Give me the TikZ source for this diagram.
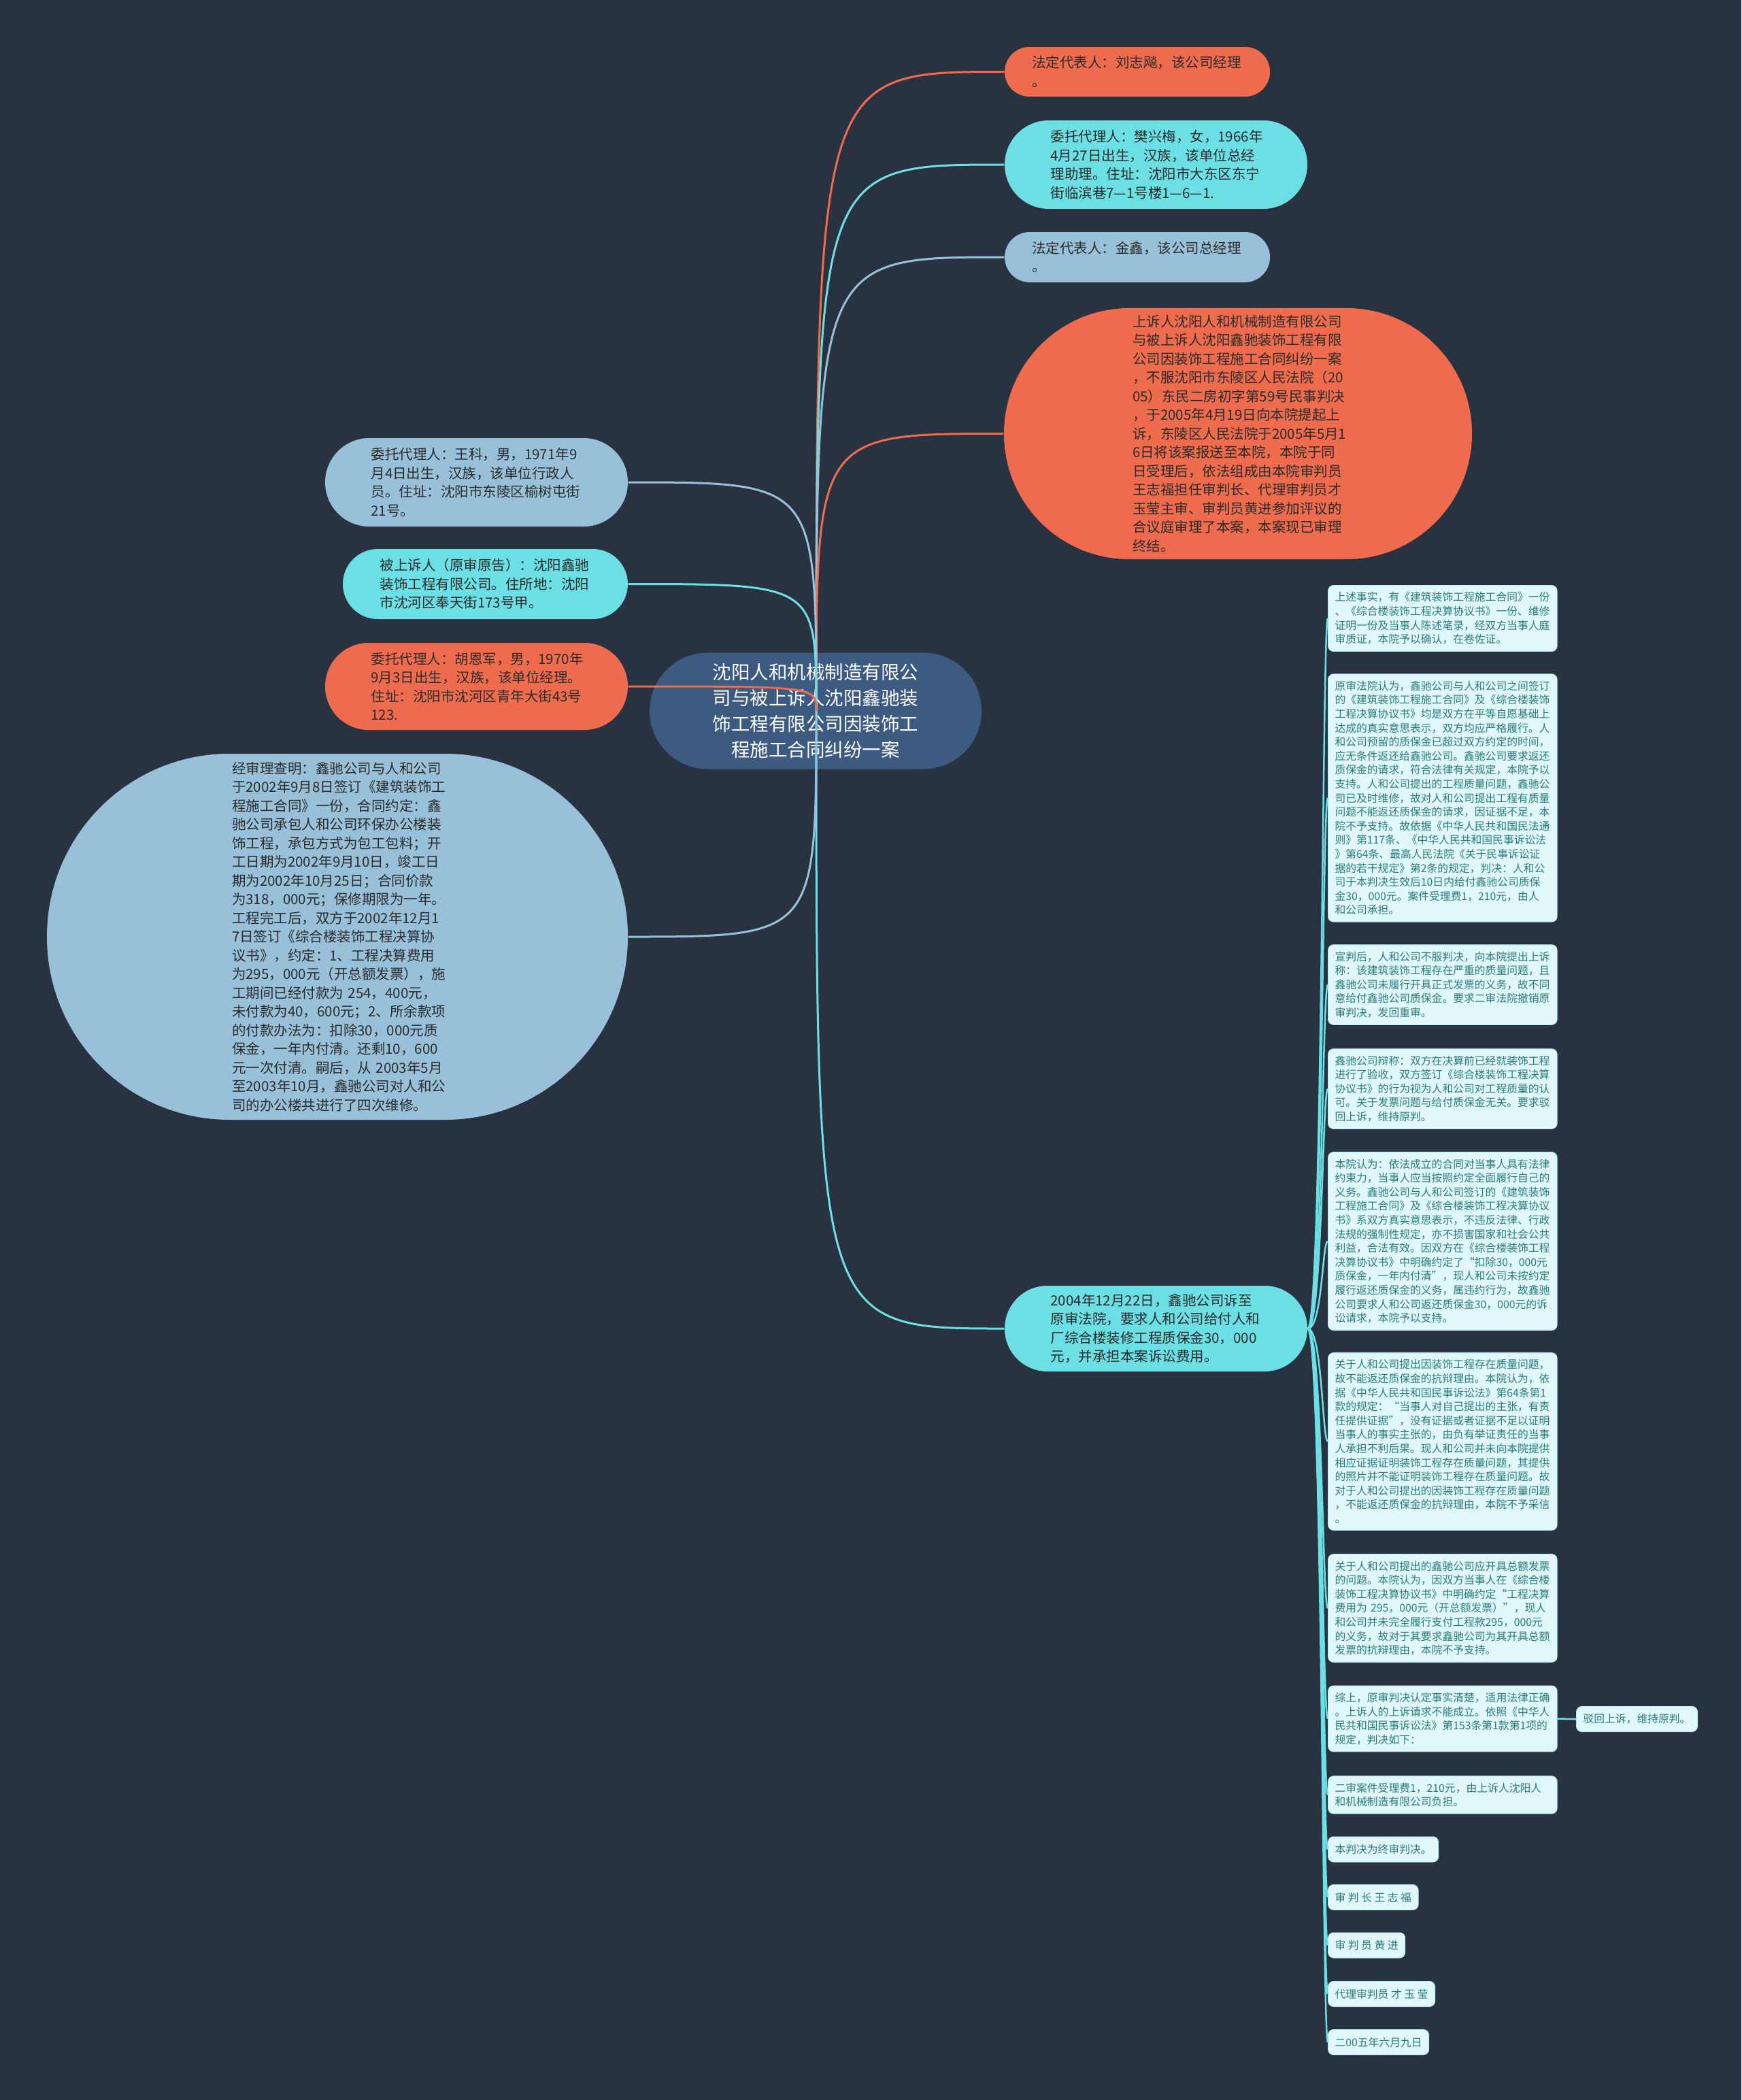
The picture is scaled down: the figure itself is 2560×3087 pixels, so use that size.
\documentclass[tikz,border=0pt]{standalone}
\usepackage{fontspec}
\setmainfont{Noto Sans CJK SC}
\usetikzlibrary{calc}
\definecolor{bgdark}{HTML}{293241}
\definecolor{rootblue}{HTML}{3D5A80}
\definecolor{coral}{HTML}{EE6C4D}
\definecolor{aqua}{HTML}{6CDFE4}
\definecolor{paleblue}{HTML}{98C1D9}
\definecolor{leaffill}{HTML}{E0F8F9}
\definecolor{leafedge}{HTML}{B5ECEF}
\definecolor{leaftext}{HTML}{2B7A80}
\definecolor{darktext}{HTML}{2B2B2B}
\tikzset{
  root/.style={fill=rootblue, inner sep=0pt, minimum width=146.4pt, minimum height=51.3pt,
    rounded corners=25.6pt, text width=92pt, align=center, text=white,
    font=\fontsize{8.25}{11.4}\selectfont},
  pill/.style 2 args={inner sep=0pt, minimum width=#1, minimum height=#2,
    rounded corners=0.499*#2, text width=93pt, align=left, text=darktext,
    font=\fontsize{6.15}{8.25}\selectfont},
  leaf/.style={anchor=west, fill=leaffill, draw=leafedge, line width=0.3pt,
    rounded corners=2.4pt, inner xsep=3pt, inner ysep=3pt, align=left,
    text=leaftext, font=\fontsize{4.74}{6.18}\selectfont, minimum height=11.1pt},
  wideleaf/.style={leaf, text width=95pt},
  link/.style={line width=0.9pt},
  leaflink/.style={draw=aqua, line width=0.75pt}
}

\begin{document}
\begin{tikzpicture}[x=0.3pt,y=-0.3pt]
  \fill[bgdark] (0,0) rectangle (2560,3087);
  \useasboundingbox (0,0) rectangle (2560,3087);

  \node[root] (root) at (1199,1045) {沈阳人和机械制造有限公\\司与被上诉人沈阳鑫驰装\\饰工程有限公司因装饰工\\程施工合同纠纷一案};

  \node[pill={117pt}{21.9pt},fill=coral]      (fadai1)  at (1672,105.5) {法定代表人：刘志飚，该公司经理\\。};
  \node[pill={133.5pt}{39pt},fill=aqua]       (weituo1) at (1699.5,242) {委托代理人：樊兴梅，女，1966年\\4月27日出生，汉族，该单位总经\\理助理。住址：沈阳市大东区东宁\\街临滨巷7—1号楼1—6—1.};
  \node[pill={117pt}{22.2pt},fill=paleblue]   (fadai2)  at (1672,378) {法定代表人：金鑫，该公司总经理\\。};
  \node[pill={206.4pt}{110.7pt},fill=coral]   (shangsu) at (1820,637.5) {上诉人沈阳人和机械制造有限公司\\与被上诉人沈阳鑫驰装饰工程有限\\公司因装饰工程施工合同纠纷一案\\，不服沈阳市东陵区人民法院（20\\05）东民二房初字第59号民事判决\\，于2005年4月19日向本院提起上\\诉，东陵区人民法院于2005年5月1\\6日将该案报送至本院，本院于同\\日受理后，依法组成由本院审判员\\王志福担任审判长、代理审判员才\\玉莹主审、审判员黄进参加评议的\\合议庭审理了本案，本案现已审理\\终结。};
  \node[pill={133.5pt}{37.8pt},fill=aqua]     (qisu)    at (1699.5,1953) {2004年12月22日，鑫驰公司诉至\\原审法院，要求人和公司给付人和\\厂综合楼装修工程质保金30，000\\元，并承担本案诉讼费用。};

  \node[pill={133.5pt}{39pt},fill=paleblue]   (weituo2)  at (700.5,709) {委托代理人：王科，男，1971年9\\月4日出生，汉族，该单位行政人\\员。住址：沈阳市东陵区榆树屯街\\21号。};
  \node[pill={125.7pt}{30.9pt},fill=aqua]     (beishang) at (713.5,858.5) {被上诉人（原审原告）：沈阳鑫驰\\装饰工程有限公司。住所地：沈阳\\市沈河区奉天街173号甲。};
  \node[pill={133.5pt}{38.4pt},fill=coral]    (weituo3)  at (700.5,1009) {委托代理人：胡恩军，男，1970年\\9月3日出生，汉族，该单位经理。\\住址：沈阳市沈河区青年大街43号\\123.};
  \node[pill={256.2pt}{161.4pt},fill=paleblue] (chaming) at (496,1377) {经审理查明：鑫驰公司与人和公司\\于2002年9月8日签订《建筑装饰工\\程施工合同》一份，合同约定：鑫\\驰公司承包人和公司环保办公楼装\\饰工程，承包方式为包工包料；开\\工日期为2002年9月10日，竣工日\\期为2002年10月25日；合同价款\\为318，000元；保修期限为一年。\\工程完工后，双方于2002年12月1\\7日签订《综合楼装饰工程决算协\\议书》，约定：1、工程决算费用\\为295，000元（开总额发票），施\\工期间已经付款为 254，400元，\\未付款为40，600元；2、所余款项\\的付款办法为：扣除30，000元质\\保金，一年内付清。还剩10，600\\元一次付清。嗣后，从 2003年5月\\至2003年10月，鑫驰公司对人和公\\司的办公楼共进行了四次维修。};

  \node[wideleaf] (shishi)   at (1952,909) {上述事实，有《建筑装饰工程施工合同》一份\\、《综合楼装饰工程决算协议书》一份、维修\\证明一份及当事人陈述笔录，经双方当事人庭\\审质证，本院予以确认，在卷佐证。};
  \node[wideleaf] (yuanshen) at (1952,1173) {原审法院认为，鑫驰公司与人和公司之间签订\\的《建筑装饰工程施工合同》及《综合楼装饰\\工程决算协议书》均是双方在平等自愿基础上\\达成的真实意思表示，双方均应严格履行。人\\和公司预留的质保金已超过双方约定的时间，\\应无条件返还给鑫驰公司。鑫驰公司要求返还\\质保金的请求，符合法律有关规定，本院予以\\支持。人和公司提出的工程质量问题，鑫驰公\\司已及时维修，故对人和公司提出工程有质量\\问题不能返还质保金的请求，因证据不足，本\\院不予支持。故依据《中华人民共和国民法通\\则》第117条、《中华人民共和国民事诉讼法\\》第64条、最高人民法院《关于民事诉讼证\\据的若干规定》第2条的规定，判决：人和公\\司于本判决生效后10日内给付鑫驰公司质保\\金30，000元。案件受理费1，210元，由人\\和公司承担。};
  \node[wideleaf] (xuanpan)  at (1952,1447.5) {宣判后，人和公司不服判决，向本院提出上诉\\称：该建筑装饰工程存在严重的质量问题，且\\鑫驰公司未履行开具正式发票的义务，故不同\\意给付鑫驰公司质保金。要求二审法院撤销原\\审判决，发回重审。};
  \node[wideleaf] (bianchen) at (1952,1600.5) {鑫驰公司辩称：双方在决算前已经就装饰工程\\进行了验收，双方签订《综合楼装饰工程决算\\协议书》的行为视为人和公司对工程质量的认\\可。关于发票问题与给付质保金无关。要求驳\\回上诉，维持原判。};
  \node[wideleaf] (benyuan)  at (1952,1824.5) {本院认为：依法成立的合同对当事人具有法律\\约束力，当事人应当按照约定全面履行自己的\\义务。鑫驰公司与人和公司签订的《建筑装饰\\工程施工合同》及《综合楼装饰工程决算协议\\书》系双方真实意思表示，不违反法律、行政\\法规的强制性规定，亦不损害国家和社会公共\\利益，合法有效。因双方在《综合楼装饰工程\\决算协议书》中明确约定了“扣除30，000元\\质保金，一年内付清”，现人和公司未按约定\\履行返还质保金的义务，属违约行为，故鑫驰\\公司要求人和公司返还质保金30，000元的诉\\讼请求，本院予以支持。};
  \node[wideleaf] (guanyu1)  at (1952,2119) {关于人和公司提出因装饰工程存在质量问题，\\故不能返还质保金的抗辩理由。本院认为，依\\据《中华人民共和国民事诉讼法》第64条第1\\款的规定：“当事人对自己提出的主张，有责\\任提供证据”，没有证据或者证据不足以证明\\当事人的事实主张的，由负有举证责任的当事\\人承担不利后果。现人和公司并未向本院提供\\相应证据证明装饰工程存在质量问题，其提供\\的照片并不能证明装饰工程存在质量问题。故\\对于人和公司提出的因装饰工程存在质量问题\\，不能返还质保金的抗辩理由，本院不予采信\\。};
  \node[wideleaf] (guanyu2)  at (1952,2364) {关于人和公司提出的鑫驰公司应开具总额发票\\的问题。本院认为，因双方当事人在《综合楼\\装饰工程决算协议书》中明确约定“工程决算\\费用为 295，000元（开总额发票）”，现人\\和公司并未完全履行支付工程款295，000元\\的义务，故对于其要求鑫驰公司为其开具总额\\发票的抗辩理由，本院不予支持。};
  \node[wideleaf] (zongshang) at (1952,2526.5) {综上，原审判决认定事实清楚，适用法律正确\\。上诉人的上诉请求不能成立。依照《中华人\\民共和国民事诉讼法》第153条第1款第1项的\\规定，判决如下：};
  \node[leaf]     (bohui)    at (2317,2527) {驳回上诉，维持原判。};
  \node[wideleaf] (feiyong)  at (1952,2638.5) {二审案件受理费1，210元，由上诉人沈阳人\\和机械制造有限公司负担。};
  \node[leaf] (zhongshen)    at (1952,2718.5) {本判决为终审判决。};
  \node[leaf] (shenpanzhang) at (1952,2789) {审 判 长 王 志 福};
  \node[leaf] (shenpanyuan)  at (1952,2859.5) {审 判 员 黄 进};
  \node[leaf] (dailishen)    at (1952,2931) {代理审判员 才 玉 莹};
  \node[leaf] (riqi)         at (1952,3002) {二00五年六月九日};

  \coordinate (hub) at (1200,1045);
  \foreach \n/\c in {fadai1/coral,weituo1/aqua,fadai2/paleblue,shangsu/coral,qisu/aqua}
    \draw[link,draw=\c] (hub) .. controls (hub |- \n.west) .. (\n.west);
  \foreach \n/\c in {weituo2/paleblue,beishang/aqua,weituo3/coral,chaming/paleblue}
    \draw[link,draw=\c] (hub) .. controls (hub |- \n.east) .. (\n.east);

  \coordinate (trunk) at (1944,1953);
  \foreach \n in {shishi,yuanshen,xuanpan,bianchen,benyuan,guanyu1,guanyu2,zongshang,feiyong,zhongshen,shenpanzhang,shenpanyuan,dailishen,riqi}
    \draw[leaflink] (qisu.east) .. controls (trunk) and (trunk |- \n.west) .. (\n.west);
  \draw[leaflink] (zongshang.east) -- (bohui.west);
\end{tikzpicture}
\end{document}
